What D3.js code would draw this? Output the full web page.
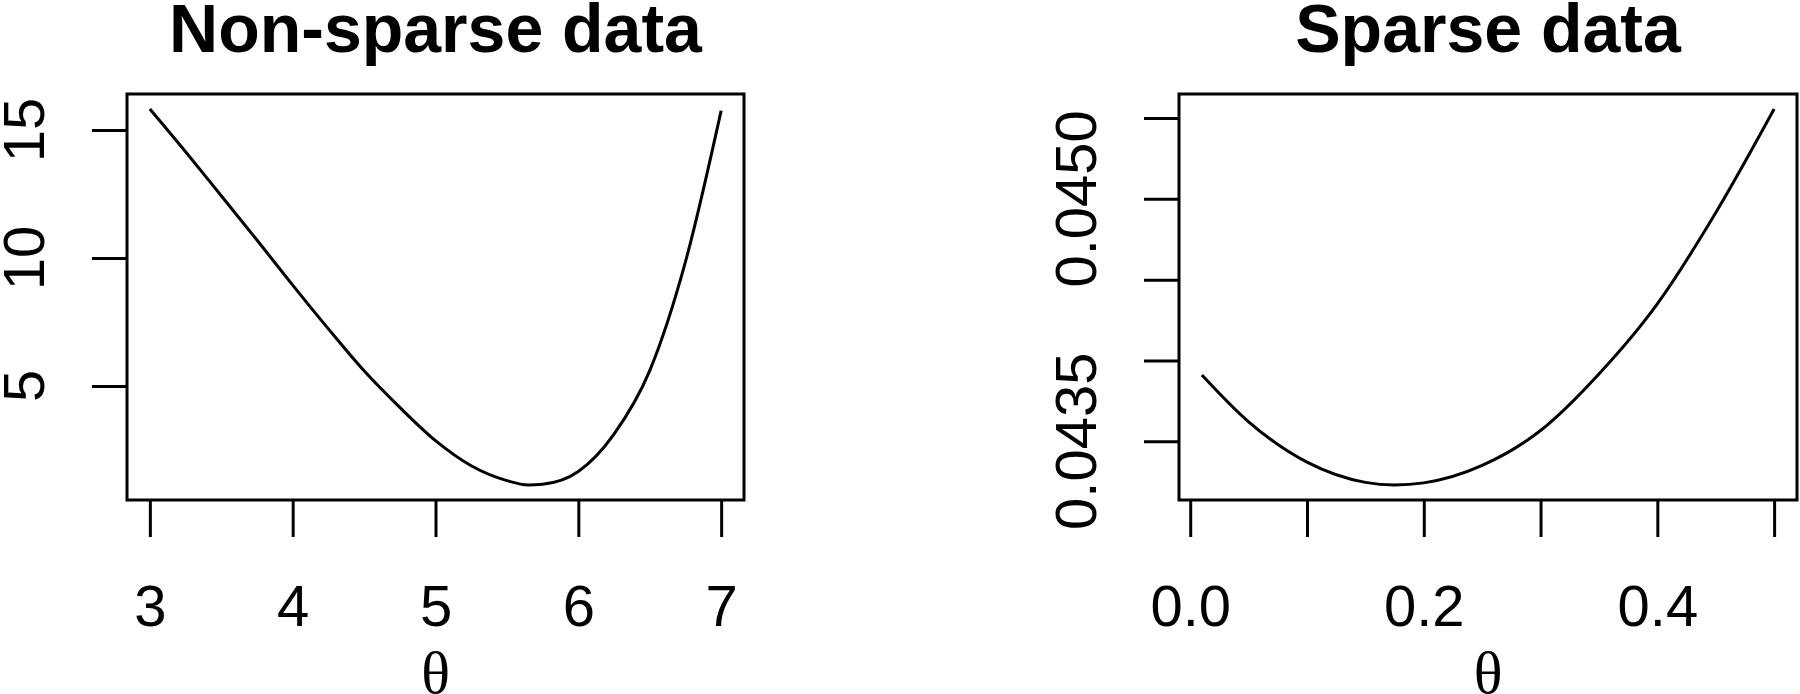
<!DOCTYPE html>
<html>
<head>
<meta charset="utf-8">
<script src="https://cdn.jsdelivr.net/npm/d3@7"></script>
<style>
  html, body { margin: 0; padding: 0; background: #fff; }
  svg text { font-family: "Liberation Sans", Arial, sans-serif; fill: #000; }
</style>
</head>
<body>
<svg id="chart" width="1800" height="694"></svg>
<script>
// values
const denseTheta = [3.0, 3.25, 3.5, 3.75, 4.0, 4.25, 4.5, 4.75, 5.0, 5.25, 5.5, 5.65, 5.75, 6.0, 6.25, 6.5, 6.75, 7.0];
const denseValue = [15.82, 14.15, 12.43, 10.7, 8.94, 7.23, 5.59, 4.16, 2.86, 1.88, 1.3, 1.13, 1.16, 1.66, 3.12, 5.6, 9.85, 15.76];

const sparseTheta = [0.01, 0.05, 0.1, 0.15, 0.175, 0.2, 0.25, 0.3, 0.35, 0.4, 0.45, 0.5];
const sparseValue = [0.04391, 0.04362, 0.04337, 0.043245, 0.043229, 0.043242, 0.04335, 0.043566, 0.043916, 0.04435, 0.044914, 0.045556];

const denseXTicks = [3, 4, 5, 6, 7];
const denseYTicks = [5, 10, 15];
const sparseXTicks = [0, 0.1, 0.2, 0.3, 0.4, 0.5];
const sparseXLabels = [0, 0.2, 0.4];
const sparseYTicks = [0.0435, 0.044, 0.0445, 0.045, 0.0455];
const sparseYLabels = [0.0435, 0.045];

const svg = d3.select("#chart");

// R style range: data extent padded by 4% each side
function rRange(vals) {
    const [lo, hi] = d3.extent(vals);
    const pad = (hi - lo) * 0.04;
    return [lo - pad, hi + pad];
}

function panel(opts) {
    const top = 94, bottom = 500;
    const x = d3.scaleLinear().domain(rRange(opts.xs)).range([opts.left, opts.right]);
    const y = d3.scaleLinear().domain(rRange(opts.ys)).range([bottom, top]);

    const g = svg.append("g");

    // title
    g.append("text")
        .attr("x", (opts.left + opts.right) / 2)
        .attr("y", 52)
        .attr("text-anchor", "middle")
        .style("font-size", "68px")
        .style("font-weight", "bold")
        .text(opts.title);

    // x axis: ticks hang below the box, no axis line
    const xAxis = d3.axisBottom(x)
        .tickValues(opts.xTicks)
        .tickSize(37)
        .tickSizeOuter(0)
        .tickPadding(48)
        .tickFormat(d => opts.xLabels.some(v => Math.abs(v - d) < 1e-9) ? opts.xFmt(d) : "");

    const gx = g.append("g")
        .attr("transform", `translate(0,${bottom})`)
        .call(xAxis);
    gx.select(".domain").remove();
    gx.selectAll("line").attr("stroke", "#000").attr("stroke-width", 3);
    gx.selectAll("text").style("font-size", "58px").attr("font-family", null);

    // y axis with rotated labels
    const yAxis = d3.axisLeft(y)
        .tickValues(opts.yTicks)
        .tickSize(35)
        .tickSizeOuter(0)
        .tickFormat("");

    const gy = g.append("g")
        .attr("transform", `translate(${opts.left},0)`)
        .call(yAxis);
    gy.select(".domain").remove();
    gy.selectAll("line").attr("stroke", "#000").attr("stroke-width", 3);

    g.selectAll(".ylab")
        .data(opts.yLabels)
        .join("text")
        .attr("class", "ylab")
        .attr("transform", d => `translate(${opts.left - 83},${y(d)}) rotate(-90)`)
        .attr("text-anchor", "middle")
        .style("font-size", "58px")
        .text(opts.yFmt);

    // box
    g.append("rect")
        .attr("x", opts.left)
        .attr("y", top)
        .attr("width", opts.right - opts.left)
        .attr("height", bottom - top)
        .attr("fill", "none")
        .attr("stroke", "#000")
        .attr("stroke-width", 3);

    // curve
    const line = d3.line()
        .x(d => x(d[0]))
        .y(d => y(d[1]))
        .curve(d3.curveMonotoneX);

    g.append("path")
        .datum(d3.zip(opts.xs, opts.ys))
        .attr("d", line)
        .attr("fill", "none")
        .attr("stroke", "#000")
        .attr("stroke-width", 3);

    // axis title
    g.append("text")
        .attr("x", (opts.left + opts.right) / 2)
        .attr("y", 693)
        .attr("text-anchor", "middle")
        .style("font-family", "'Liberation Serif', serif")
        .style("font-size", "60px")
        .text("θ");
}

panel({
    title: "Non-sparse data",
    left: 127, right: 744,
    xs: denseTheta, ys: denseValue,
    xTicks: denseXTicks, xLabels: denseXTicks, xFmt: d3.format("d"),
    yTicks: denseYTicks, yLabels: denseYTicks, yFmt: d3.format("d")
});

panel({
    title: "Sparse data",
    left: 1179, right: 1797,
    xs: sparseTheta, ys: sparseValue,
    xTicks: sparseXTicks, xLabels: sparseXLabels, xFmt: d3.format(".1f"),
    yTicks: sparseYTicks, yLabels: sparseYLabels, yFmt: d3.format(".4f")
});
</script>
</body>
</html>
